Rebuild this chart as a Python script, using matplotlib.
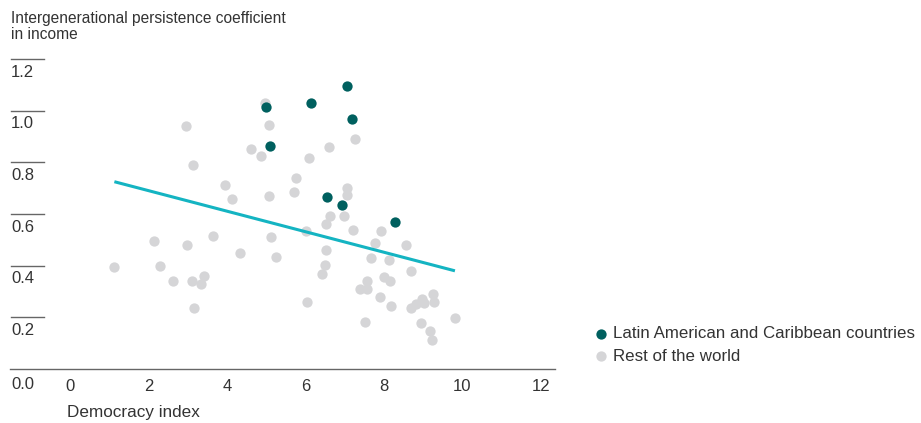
"""
Democracy index vs intergenerational income persistence, scatter with fit line.
"""

import matplotlib
matplotlib.use("Agg")
import matplotlib.pyplot as plt
import matplotlib.transforms as mtransforms

# --------------------------------------------------------------------------- #
# Data                                         #
# --------------------------------------------------------------------------- #
lac_x = [4.99, 5.10, 7.05, 6.15, 7.19, 6.54, 6.92, 8.28]
lac_y = [1.015, 0.865, 1.095, 1.028, 0.966, 0.667, 0.633, 0.569]

row_x = [4.96, 2.96, 5.07, 4.61, 4.87, 3.13, 3.95, 4.13, 5.07, 1.12,
         2.14, 2.30, 2.62, 2.97, 3.11, 3.34, 3.41, 3.16, 3.64, 4.34,
         5.12, 5.25, 7.26, 6.61, 6.10, 5.76, 5.71, 7.07, 7.07, 6.63,
         6.98, 6.52, 6.02, 7.21, 7.93, 7.76, 8.55, 6.52, 7.68, 8.12,
         6.49, 6.41, 8.68, 7.58, 7.99, 8.15, 7.40, 7.58, 6.05, 7.91,
         8.17, 8.68, 8.83, 8.96, 9.03, 9.25, 9.27, 7.53, 8.95, 9.17,
         9.22, 9.81]
row_y = [1.030, 0.940, 0.943, 0.852, 0.825, 0.788, 0.711, 0.658, 0.669, 0.393,
         0.495, 0.398, 0.340, 0.479, 0.340, 0.329, 0.359, 0.236, 0.516, 0.449,
         0.512, 0.434, 0.889, 0.859, 0.815, 0.738, 0.687, 0.701, 0.673, 0.593,
         0.593, 0.560, 0.535, 0.539, 0.535, 0.486, 0.479, 0.460, 0.431, 0.422,
         0.401, 0.368, 0.380, 0.340, 0.357, 0.339, 0.309, 0.308, 0.260, 0.280,
         0.243, 0.235, 0.250, 0.272, 0.256, 0.290, 0.259, 0.182, 0.178, 0.146,
         0.112, 0.198]

fit_x = [1.13, 9.81]
fit_y = [0.725, 0.380]

x_ticks = [0, 2, 4, 6, 8, 10, 12]
y_ticks = [0.0, 0.2, 0.4, 0.6, 0.8, 1.0, 1.2]

TEAL = "#00605f"
GREY = "#d5d5d7"
CYAN = "#14b4c2"
TEXT = "#333333"
AXIS = "#666666"

plt.rcParams["font.family"] = ["Liberation Sans", "DejaVu Sans"]

# --------------------------------------------------------------------------- #
# Figure                                                                      #
# --------------------------------------------------------------------------- #
W, H = 921, 423
fig = plt.figure(figsize=(W / 100, H / 100), dpi=100)
ax = fig.add_axes([10 / W, (H - 369) / H, 545 / W, 310 / H])
ax.set_xlim(-1.53, 12.36)
ax.set_ylim(0, 1.2)

ax.scatter(row_x, row_y, s=55, color=GREY, lw=0, zorder=2,
           label="Rest of the world", clip_on=False)
ax.scatter(lac_x, lac_y, s=55, color=TEAL, lw=0, zorder=3,
           label="Latin American and Caribbean countries", clip_on=False)
ax.plot(fit_x, fit_y, color=CYAN, lw=2.2, zorder=4, solid_capstyle="butt")

# axes styling: only the bottom line, no tick marks
for side in ("left", "right", "top"):
    ax.spines[side].set_visible(False)
ax.spines["bottom"].set_color(AXIS)
ax.spines["bottom"].set_linewidth(1.0)
ax.set_yticks([])
ax.set_xticks(x_ticks)
ax.set_xticklabels([str(t) for t in x_ticks])
ax.tick_params(axis="x", length=0, pad=7, labelsize=12, labelcolor=TEXT)

# y ticks: short rule with the label underneath
trans = mtransforms.blended_transform_factory(ax.transAxes, ax.transData)
for v in y_ticks:
    if v > 0:
        ax.plot([0.002, 0.062], [v, v], color=AXIS, lw=1.0,
                transform=trans, clip_on=False)
        off = -4
    else:
        off = -6
    ax.annotate(f"{v:.1f}", (0.002, v), xycoords=trans,
                textcoords="offset points", xytext=(0, off),
                ha="left", va="top", fontsize=12, color=TEXT)

fig.text(11 / W, 1 - 11 / H,
         "Intergenerational persistence coefficient\nin income",
         ha="left", va="top", fontsize=11.2, color=TEXT, linespacing=1.05)
fig.text(67 / W, 1 - 405 / H, "Democracy index",
         ha="left", va="top", fontsize=12.3, color=TEXT)

handles, labels = ax.get_legend_handles_labels()
leg = fig.legend(handles[::-1], labels[::-1], loc="upper left",
                 bbox_to_anchor=(596 / W, 1 - 326 / H), frameon=False,
                 fontsize=12.2, handlelength=0.6, handletextpad=0.4,
                 labelspacing=0.45, borderaxespad=0, borderpad=0,
                 labelcolor=TEXT)

fig.savefig("out.png", dpi=100)
